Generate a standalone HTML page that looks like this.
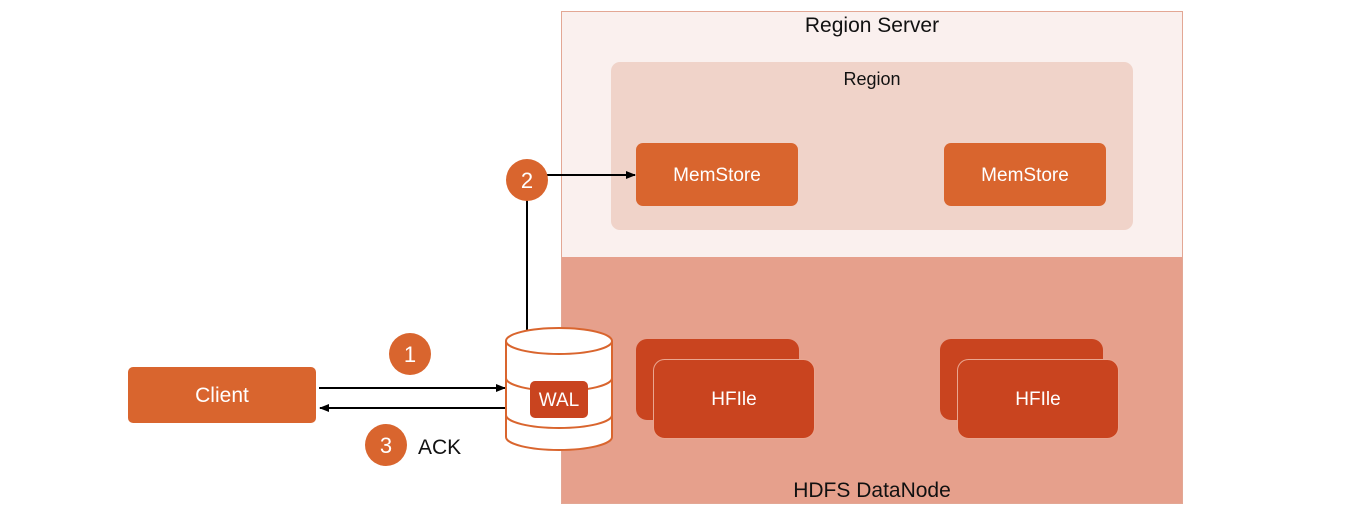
<!DOCTYPE html>
<html><head><style>body{margin:0;background:#fff}svg{display:block}text{font-family:"Liberation Sans",sans-serif}</style></head>
<body>
<svg width="1352" height="516" viewBox="0 0 1352 516" xmlns="http://www.w3.org/2000/svg">
<defs><marker id="a" markerWidth="10" markerHeight="10" refX="9" refY="5" orient="auto" markerUnits="userSpaceOnUse"><path d="M0,1 L10,5 L0,9 Z" fill="#000"/></marker></defs>
<rect x="561.5" y="11.5" width="621" height="492" fill="#faf0ee" stroke="#e3a794"/>
<rect x="562" y="257" width="620" height="246" fill="#e6a08c"/>
<text x="872" y="32" font-size="21" text-anchor="middle" fill="#111">Region Server</text>
<rect x="611" y="62" width="522" height="168" rx="9" fill="#f0d3c9"/>
<text x="872" y="85" font-size="18" text-anchor="middle" fill="#111">Region</text>
<rect x="636" y="143" width="162" height="63" rx="7" fill="#d9652e"/>
<text x="717" y="181" font-size="19" text-anchor="middle" fill="#fff">MemStore</text>
<rect x="944" y="143" width="162" height="63" rx="7" fill="#d9652e"/>
<text x="1025" y="181" font-size="19" text-anchor="middle" fill="#fff">MemStore</text>
<rect x="636" y="339" width="163" height="81" rx="11" fill="#c9441f"/>
<rect x="653.5" y="359.5" width="161" height="79" rx="11" fill="#c9441f" stroke="#eaa690"/>
<text x="734" y="405" font-size="19" text-anchor="middle" fill="#fff">HFIle</text>
<rect x="940" y="339" width="163" height="81" rx="11" fill="#c9441f"/>
<rect x="957.5" y="359.5" width="161" height="79" rx="11" fill="#c9441f" stroke="#eaa690"/>
<text x="1038" y="405" font-size="19" text-anchor="middle" fill="#fff">HFIle</text>
<text x="872" y="497" font-size="21" text-anchor="middle" fill="#111">HDFS DataNode</text>
<rect x="128" y="367" width="188" height="56" rx="5" fill="#d9652e"/>
<text x="222" y="402" font-size="21" text-anchor="middle" fill="#fff">Client</text>
<line x1="527" y1="200" x2="527" y2="330" stroke="#000" stroke-width="2"/>
<line x1="547" y1="175" x2="635" y2="175" stroke="#000" stroke-width="2" marker-end="url(#a)"/>
<line x1="319" y1="388" x2="505" y2="388" stroke="#000" stroke-width="2" marker-end="url(#a)"/>
<line x1="505" y1="408" x2="320" y2="408" stroke="#000" stroke-width="2" marker-end="url(#a)"/>
<circle cx="527" cy="180" r="21" fill="#d9652e"/><text x="527" y="188" font-size="22" text-anchor="middle" fill="#fff">2</text>
<circle cx="410" cy="354" r="21" fill="#d9652e"/><text x="410" y="362" font-size="22" text-anchor="middle" fill="#fff">1</text>
<circle cx="386" cy="445" r="21" fill="#d9652e"/><text x="386" y="453" font-size="22" text-anchor="middle" fill="#fff">3</text>
<text x="418" y="454" font-size="21" fill="#111">ACK</text>
<g fill="#fff" stroke="#d9652e" stroke-width="2">
<path d="M506,341 L506,437 A53,13 0 0 0 612,437 L612,341"/>
<ellipse cx="559" cy="341" rx="53" ry="13"/>
<path d="M506,378 A53,13 0 0 0 612,378" fill="none"/>
<path d="M506,415 A53,13 0 0 0 612,415" fill="none"/>
</g>
<rect x="530" y="381" width="58" height="37" rx="5" fill="#c9441f"/>
<text x="559" y="406" font-size="19" text-anchor="middle" fill="#fff">WAL</text>
</svg>
</body></html>
